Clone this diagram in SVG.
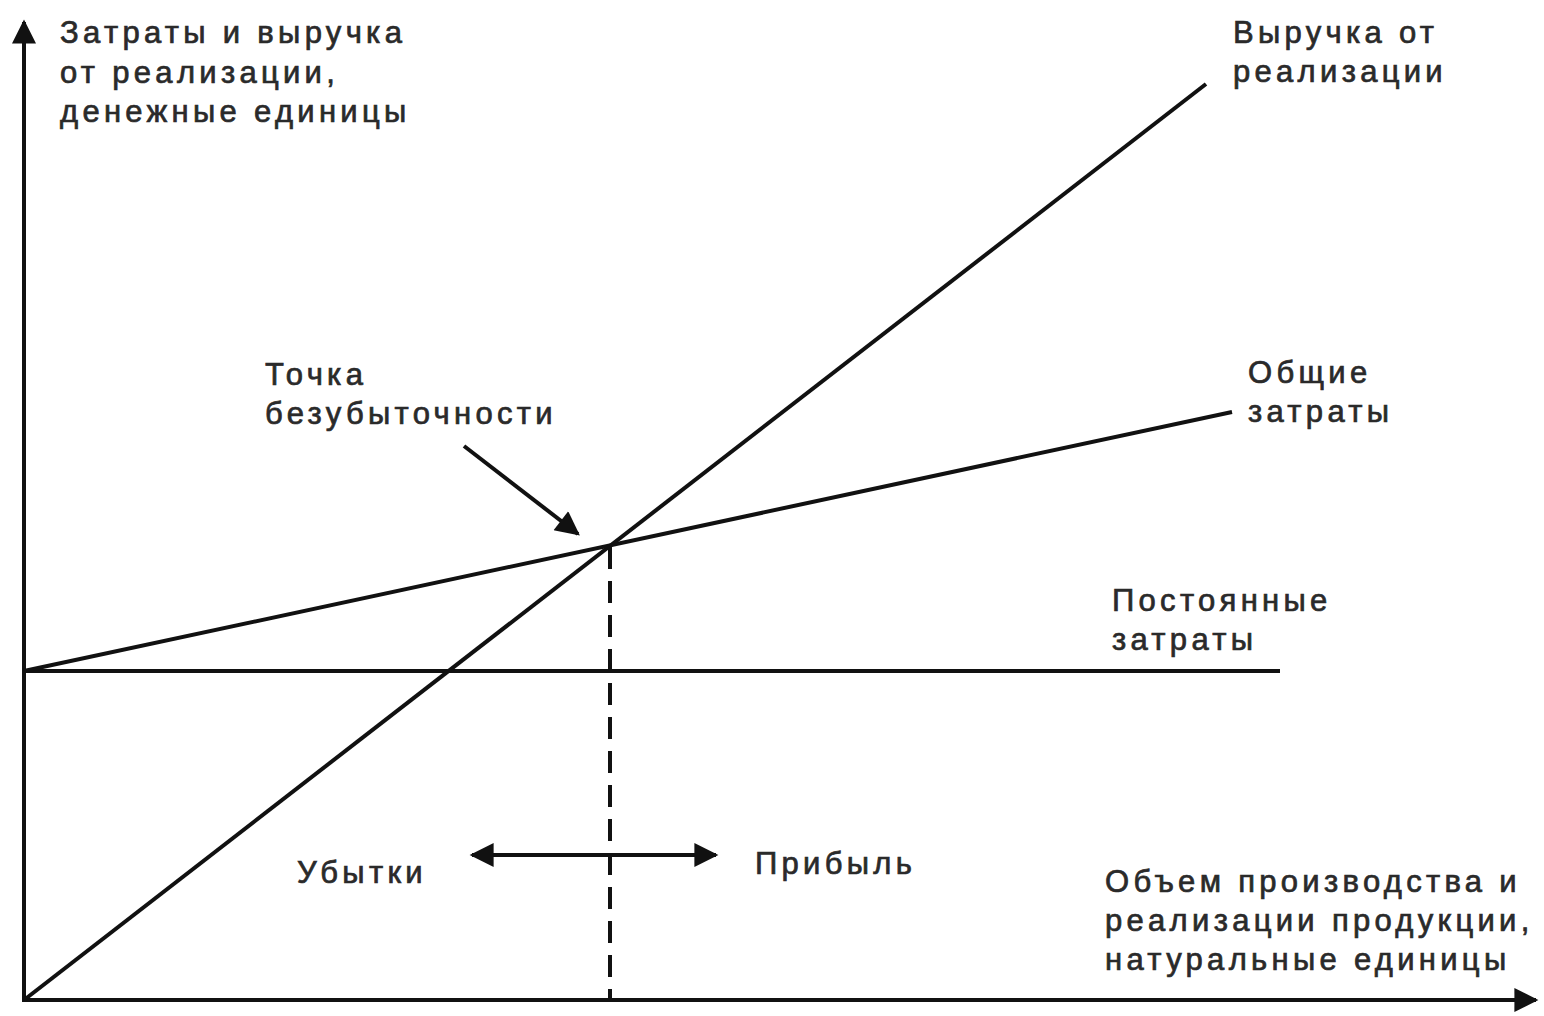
<svg xmlns="http://www.w3.org/2000/svg" width="1544" height="1016" viewBox="0 0 1544 1016">
<style>
.t{font-family:"Liberation Sans",Arial,sans-serif;font-size:31px;fill:#2a2a2a;stroke:#2a2a2a;stroke-width:0.7px;letter-spacing:4.3px}
.l{stroke:#111;stroke-width:4;fill:none}
</style>
<defs>
<marker id="ah2" viewBox="0 0 10 10" refX="9" refY="5" markerWidth="7" markerHeight="6" orient="auto-start-reverse">
<path d="M0,0 L10,5 L0,10 z" fill="#111"/>
</marker>
</defs>
<rect width="1544" height="1016" fill="#fff"/>
<g id="connectors">
<line class="l" x1="24" y1="1002" x2="24" y2="22" marker-end="url(#ah2)"/>
<line class="l" x1="22" y1="1000" x2="1536" y2="1000" marker-end="url(#ah2)"/>
<line class="l" x1="24" y1="671" x2="1280" y2="671"/>
<line class="l" x1="24" y1="1000" x2="1206" y2="84"/>
<line class="l" x1="24" y1="671" x2="1232" y2="412"/>
<line class="l" x1="610" y1="547" x2="610" y2="1000" stroke-dasharray="22,12"/>
<line class="l" x1="464" y1="446" x2="578" y2="534" marker-end="url(#ah2)"/>
<line class="l" x1="472" y1="855" x2="716" y2="855" marker-start="url(#ah2)" marker-end="url(#ah2)"/>
</g>
<g id="y-axis-label">
<text class="t" x="60" y="43">Затраты и выручка</text>
<text class="t" x="60" y="83">от реализации,</text>
<text class="t" x="60" y="122">денежные единицы</text>
</g>
<g id="revenue-label">
<text class="t" x="1233" y="43">Выручка от</text>
<text class="t" x="1233" y="82">реализации</text>
</g>
<g id="total-cost-label">
<text class="t" x="1248" y="383">Общие</text>
<text class="t" x="1248" y="422">затраты</text>
</g>
<g id="fixed-cost-label">
<text class="t" x="1112" y="611">Постоянные</text>
<text class="t" x="1112" y="650">затраты</text>
</g>
<g id="breakeven-label">
<text class="t" x="265" y="385">Точка</text>
<text class="t" x="265" y="424">безубыточности</text>
</g>
<g id="loss-label">
<text class="t" x="297" y="883">Убытки</text>
</g>
<g id="profit-label">
<text class="t" x="755" y="874">Прибыль</text>
</g>
<g id="x-axis-label">
<text class="t" x="1105" y="892">Объем производства и</text>
<text class="t" x="1105" y="931">реализации продукции,</text>
<text class="t" x="1105" y="970">натуральные единицы</text>
</g>
</svg>
